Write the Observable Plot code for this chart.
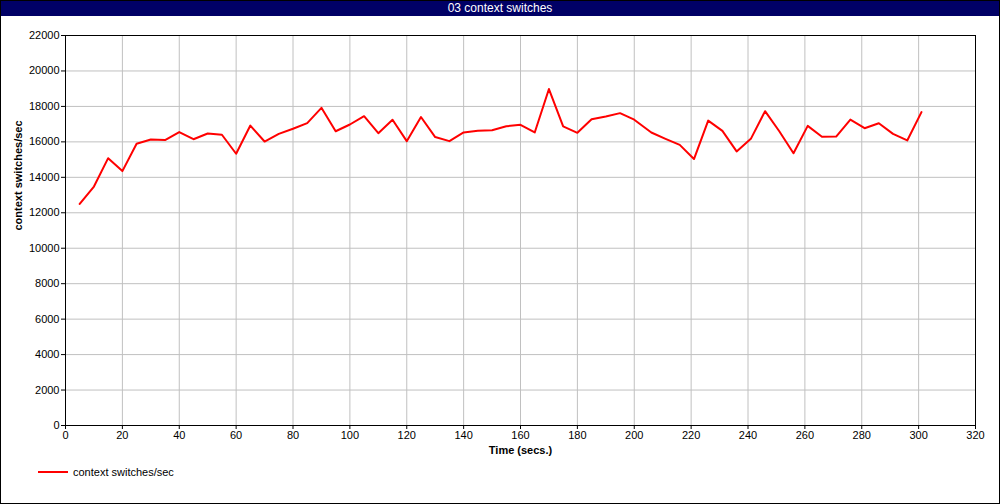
<!DOCTYPE html>
<html>
<head>
<meta charset="utf-8">
<script src="https://cdn.jsdelivr.net/npm/d3@7"></script>
<script src="https://cdn.jsdelivr.net/npm/@observablehq/plot@0.6"></script>
<style>
  html, body { margin: 0; padding: 0; background: #fff; }
  #wrap { position: relative; width: 998px; height: 502px; border: 1px solid #000; overflow: hidden;
          font-family: "Liberation Sans", Arial, sans-serif; }
  #title { height: 15px; line-height: 15px; background: #000066; color: #fff; text-align: center; font-size: 12px; }
  #legend { position: absolute; left: 37px; top: 465px; font-size: 11px; display: flex; align-items: center; }
  #legend .sw { display: inline-block; width: 30px; height: 2px; background: #ff0000; margin-right: 5px; }
  svg { display: block; }
</style>
</head>
<body>
<div id="wrap">
  <div id="title"></div>
  <div id="chart"></div>
  <div id="legend"><span class="sw"></span><span id="legtext"></span></div>
</div>
<script>
const titleText = "03 context switches";
const seriesName = "context switches/sec";
const xLabel = "Time (secs.)";
const yLabel = "context switches/sec";

const times = [5, 10, 15, 20, 25, 30, 35, 40, 45, 50, 55, 60, 65, 70, 75, 80, 85, 90, 95, 100,
  105, 110, 115, 120, 125, 130, 135, 140, 145, 150, 155, 160, 165, 170, 175, 180, 185, 190, 195, 200,
  206, 211, 216, 221, 226, 231, 236, 241, 246, 251, 256, 261, 266, 271, 276, 281, 286, 291, 296, 301];
const values = [12500, 13480, 15080, 14350, 15890, 16130, 16100, 16550, 16150, 16470, 16400, 15330, 16920, 16020, 16450, 16740, 17060, 17920, 16600, 16980,
  17450, 16490, 17250, 16040, 17400, 16270, 16040, 16530, 16630, 16660, 16880, 16960, 16530, 18980, 16870, 16510, 17280, 17430, 17620, 17250,
  16530, 16170, 15830, 15030, 17200, 16620, 15460, 16170, 17730, 16600, 15360, 16900, 16290, 16300, 17260, 16770, 17050, 16450, 16080, 17680];

const xTicks = [0, 20, 40, 60, 80, 100, 120, 140, 160, 180, 200, 220, 240, 260, 280, 300, 320];
const yTicks = [0, 2000, 4000, 6000, 8000, 10000, 12000, 14000, 16000, 18000, 20000, 22000];

const data = times.map((t, i) => ({t, v: values[i]}));

document.getElementById("title").textContent = titleText;
document.getElementById("legtext").textContent = seriesName;

const chart = Plot.plot({
  width: 998,
  height: 446,
  marginLeft: 64,
  marginRight: 24,
  marginTop: 19,
  marginBottom: 37,
  style: {fontFamily: '"Liberation Sans", Arial, sans-serif', fontSize: "11px", background: "#fff", color: "#000"},
  x: {domain: [0, 320]},
  y: {domain: [0, 22000]},
  marks: [
    Plot.gridX(xTicks, {stroke: "#c0c0c0", strokeOpacity: 1}),
    Plot.gridY(yTicks, {stroke: "#c0c0c0", strokeOpacity: 1}),
    Plot.frame({stroke: "#000"}),
    Plot.axisX(xTicks, {label: null, tickSize: 4, tickPadding: 2, tickFormat: d => String(d), stroke: "#000"}),
    Plot.axisY(yTicks, {label: null, tickSize: 4, tickPadding: 2, tickFormat: d => String(d), stroke: "#000"}),
    Plot.line(data, {x: "t", y: "v", stroke: "#ff0000", strokeWidth: 2}),
    Plot.text([yLabel], {frameAnchor: "left", dx: -47, rotate: -90, text: d => d, fontWeight: "bold", fontSize: 11}),
    Plot.text([xLabel], {frameAnchor: "bottom", dy: 28, text: d => d, fontWeight: "bold", fontSize: 11})
  ]
});
document.getElementById("chart").appendChild(chart);
</script>
</body>
</html>
